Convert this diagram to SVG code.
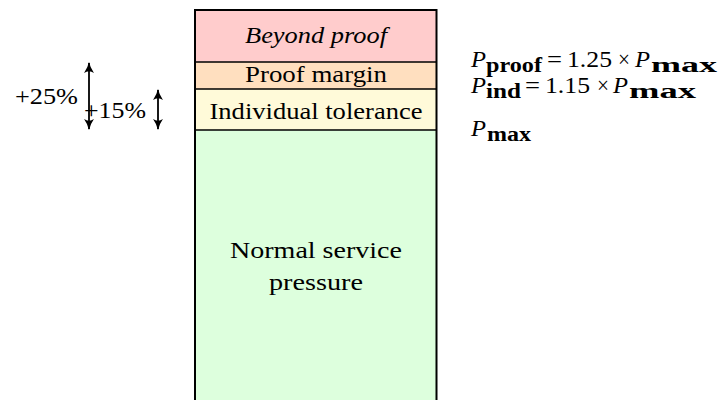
<svg xmlns="http://www.w3.org/2000/svg" width="724" height="400" viewBox="0 0 724 400">
<defs>
<style>
text{font-family:'Liberation Serif','Times New Roman',Times,serif;font-size:24px;fill:#000}
.c{text-anchor:middle}
.it{font-style:italic}
.sb{font-size:20px;font-weight:bold}
.div{stroke:#000;stroke-width:1.6;fill:none}
.arr{stroke:#000;stroke-width:1.8;fill:none;marker-start:url(#ah);marker-end:url(#ah)}
</style>
<marker id="ah" viewBox="0 0 10 10" refX="9" refY="5" markerUnits="userSpaceOnUse" markerWidth="11" markerHeight="11" orient="auto-start-reverse">
<path d="M0,0.5 Q5,4 10,5 Q5,6 0,9.5 Q3,5 0,0.5Z" fill="#000"/>
</marker>
</defs>
<rect x="0" y="0" width="724" height="400" fill="#fff"/>
<g id="beyond">
<rect x="195" y="10" width="241.5" height="52" fill="#ffcccc"/>
<text class="c it" x="316" y="43" textLength="142" lengthAdjust="spacingAndGlyphs">Beyond proof</text>
</g>
<g id="proof-margin">
<rect x="195" y="62" width="241.5" height="27" fill="#ffdfbf"/>
<text class="c" x="316" y="82" textLength="142" lengthAdjust="spacingAndGlyphs">Proof margin</text>
</g>
<g id="individual">
<rect x="195" y="89" width="241.5" height="41" fill="#fffad9"/>
<text class="c" x="316" y="119" textLength="213" lengthAdjust="spacingAndGlyphs">Individual tolerance</text>
</g>
<g id="normal">
<rect x="195" y="130" width="241.5" height="290" fill="#ddffdd"/>
<text class="c" x="316" y="258" textLength="172" lengthAdjust="spacingAndGlyphs">Normal service</text>
<text class="c" x="316" y="290" textLength="94" lengthAdjust="spacingAndGlyphs">pressure</text>
</g>
<g id="outline">
<path d="M195,420 V10 H436.5 V420" stroke="#000" stroke-width="2" fill="none"/>
<path class="div" d="M195,62 H436.5 M195,89 H436.5 M195,130 H436.5"/>
</g>
<g id="connectors">
<line class="arr" x1="89" y1="63" x2="89" y2="129"/>
<line class="arr" x1="158" y1="90" x2="158" y2="129"/>
</g>
<g id="label-25">
<text x="15" y="104" textLength="63" lengthAdjust="spacingAndGlyphs">+25%</text>
</g>
<g id="label-15">
<text x="84" y="118" textLength="62" lengthAdjust="spacingAndGlyphs">+15%</text>
</g>
<g id="formula-proof">
<text class="it" x="471" y="67" textLength="15" lengthAdjust="spacingAndGlyphs">P</text>
<text class="sb" x="486" y="72" textLength="56" lengthAdjust="spacingAndGlyphs">proof</text>
<text x="547" y="67" textLength="15" lengthAdjust="spacingAndGlyphs">=</text>
<text x="567" y="67" textLength="45" lengthAdjust="spacingAndGlyphs">1.25</text>
<text x="618" y="67" textLength="12" lengthAdjust="spacingAndGlyphs">×</text>
<text class="it" x="635" y="67" textLength="15" lengthAdjust="spacingAndGlyphs">P</text>
<text class="sb" x="651" y="72" textLength="66" lengthAdjust="spacingAndGlyphs">max</text>
</g>
<g id="formula-ind">
<text class="it" x="471" y="93" textLength="15" lengthAdjust="spacingAndGlyphs">P</text>
<text class="sb" x="486" y="98" textLength="35" lengthAdjust="spacingAndGlyphs">ind</text>
<text x="525" y="93" textLength="15" lengthAdjust="spacingAndGlyphs">=</text>
<text x="545" y="93" textLength="45" lengthAdjust="spacingAndGlyphs">1.15</text>
<text x="597" y="93" textLength="12" lengthAdjust="spacingAndGlyphs">×</text>
<text class="it" x="613" y="93" textLength="15" lengthAdjust="spacingAndGlyphs">P</text>
<text class="sb" x="629" y="98" textLength="67" lengthAdjust="spacingAndGlyphs">max</text>
</g>
<g id="formula-max">
<text class="it" x="471" y="136" textLength="15" lengthAdjust="spacingAndGlyphs">P</text>
<text class="sb" x="487" y="141" textLength="44" lengthAdjust="spacingAndGlyphs">max</text>
</g>
</svg>
